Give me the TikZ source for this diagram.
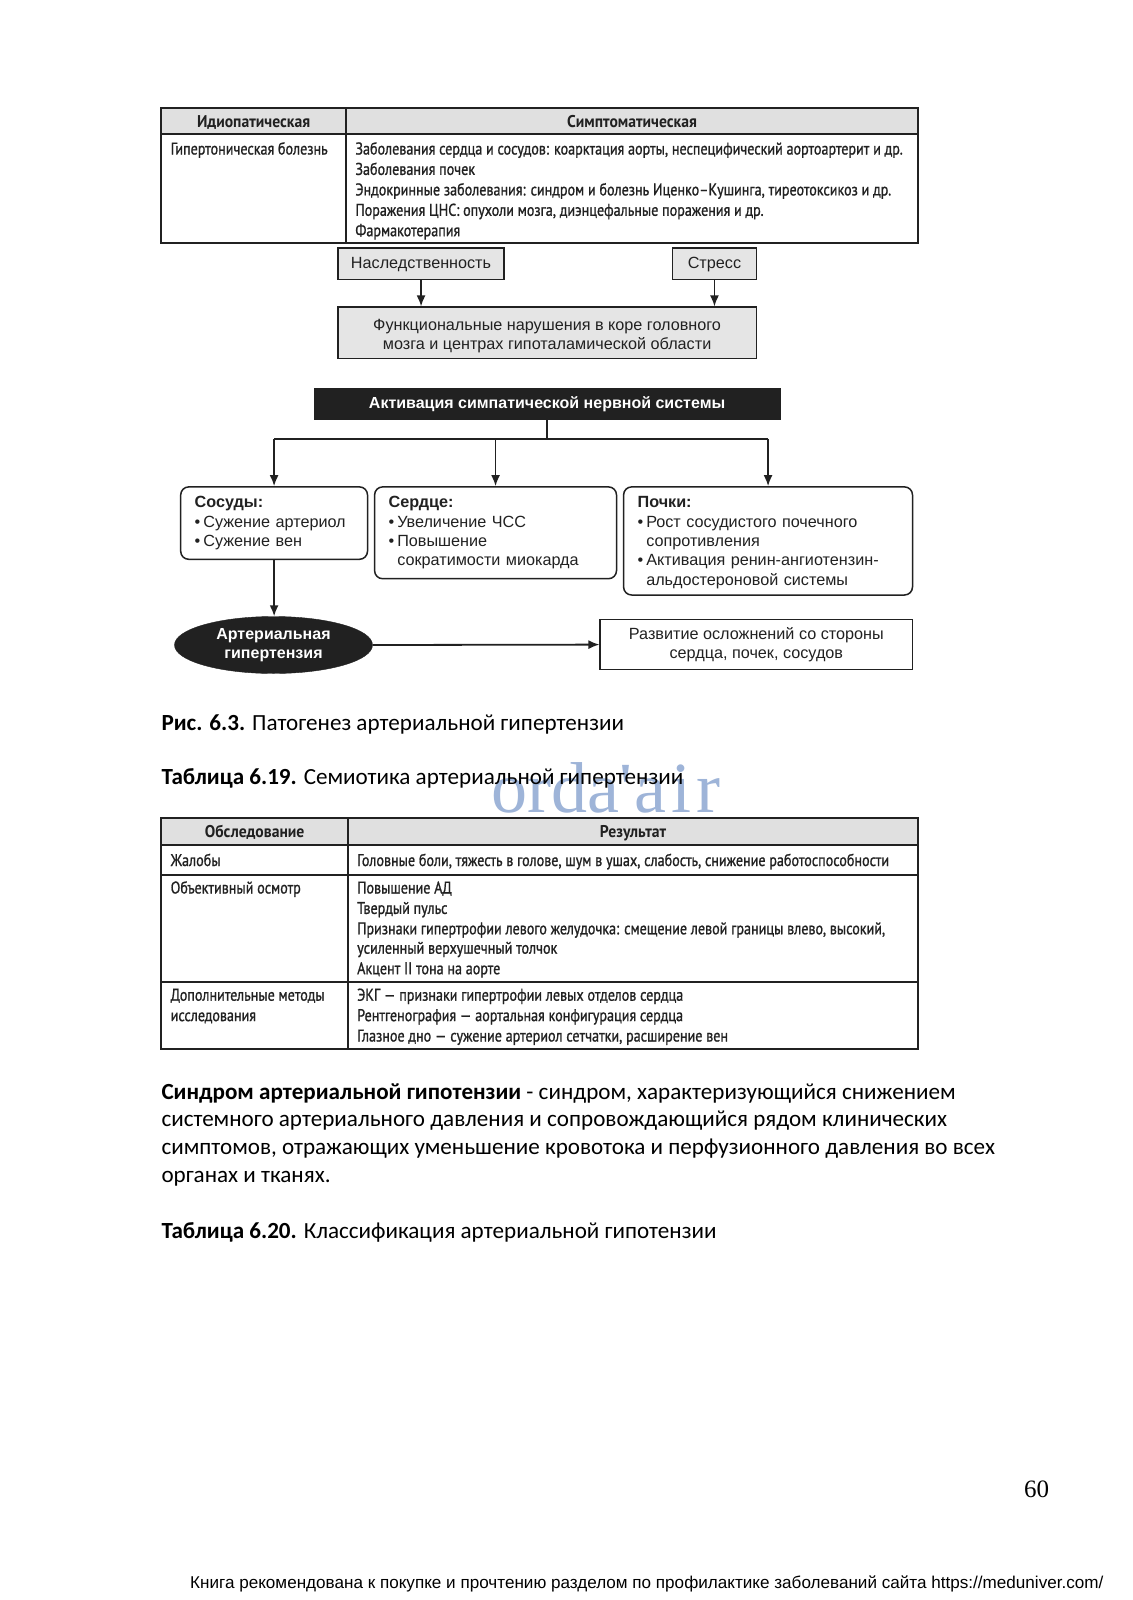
\documentclass[tikz,border=0pt]{standalone}
\usepackage{fontspec}
\setmainfont{Carlito}
\newfontfamily\diag{Liberation Sans}
\newfontfamily\tabf[FakeStretch=0.83,FakeBold=1.0]{PT Sans}
\newfontfamily\tabh[FakeStretch=0.92]{PT Sans Bold}
\newfontfamily\wmf{Liberation Serif}
\usetikzlibrary{arrows.meta,shapes.geometric}
\definecolor{hdr}{gray}{0.88}
\definecolor{boxg}{gray}{0.9}
\definecolor{ink}{gray}{0.13}
\definecolor{wm}{RGB}{158,180,216}
\newcommand{\blt}{•\kern3pt}
\newcommand{\bltind}{\hphantom{•\kern3pt}}
\tikzset{
  tabline/.style={draw=ink, line width=1.8pt},
  tabtxt/.style={font=\tabf\fontsize{17}{19}\selectfont, inner sep=0pt, anchor=base west, text=ink},
  tabhdr/.style={font=\tabh\fontsize{17}{19}\selectfont, inner sep=0pt, anchor=base, text=ink},
  dtxt/.style={font=\diag\fontsize{16.2}{19.4}\selectfont, text=ink},
  gbox/.style={dtxt, draw=ink, line width=1.5pt, fill=boxg, inner sep=0pt, align=center},
  blkbox/.style={font=\diag\bfseries\fontsize{16}{19.4}\selectfont, draw=ink, fill=ink, text=white, inner sep=0pt, align=center},
  rbox/.style={dtxt, draw=ink, line width=1.5pt, rounded corners=8pt, inner xsep=14pt, inner ysep=0pt, align=left},
  wbox/.style={dtxt, draw=ink, line width=1.5pt, fill=white, inner sep=0pt, align=center},
  conn/.style={draw=ink, line width=1.8pt},
  arr/.style={conn, -{Latex[length=11pt,width=9pt]}},
  captxt/.style={font=\fontsize{23.1}{27.5}\selectfont, inner sep=0pt, anchor=base west, text=black},
  wmtxt/.style={font=\wmf\fontsize{72}{72}\selectfont, text=wm, inner sep=0pt, anchor=base west},
}
\begin{document}
\begin{tikzpicture}[x=1pt,y=-1pt]
\useasboundingbox (0,0) rectangle (1132,1600);
\fill[white] (0,0) rectangle (1132,1600);

% ---------- Table 1 ----------
\fill[hdr] (161.3,108.2) rectangle (917.6,133.7);
\draw[tabline] (161.3,108.2) rectangle (917.6,242.9);
\draw[tabline] (161.3,133.7) -- (917.6,133.7);
\draw[tabline] (346,108.2) -- (346,242.9);
\node[tabhdr] (h1a) at (253.6,128) {Идиопатическая};
\node[tabhdr] (h1b) at (632,128) {Симптоматическая};
\node[tabtxt] (t1a) at (170.5,154.5) {Гипертоническая болезнь};
\node[tabtxt] (t1b) at (355.2,154.5) {Заболевания сердца и сосудов: коарктация аорты, неспецифический аортоартерит и др.};
\node[tabtxt] (t1c) at (355.2,174.9) {Заболевания почек};
\node[tabtxt] (t1d) at (355.2,195.4) {Эндокринные заболевания: синдром и болезнь Иценко–Кушинга, тиреотоксикоз и др.};
\node[tabtxt] (t1e) at (355.2,215.8) {Поражения ЦНС: опухоли мозга, диэнцефальные поражения и др.};
\node[tabtxt] (t1f) at (355.2,236.2) {Фармакотерапия};

% ---------- Flow diagram ----------
\node[gbox, minimum width=166.3pt, minimum height=31.7pt, text height=0.97em, text depth=0pt] (her) at (421.05,263.85) {Наследственность};
\node[gbox, minimum width=83.7pt, minimum height=31.7pt, text height=0.97em, text depth=0pt] (str) at (714.45,263.85) {Стресс};
\node[gbox, minimum width=418.4pt, minimum height=51.1pt] (func) at (547.1,332.75) {\rule{0pt}{1.08em}Функциональные нарушения в коре головного\\мозга и центрах гипоталамической области};
\draw[arr] (her.south) -- (her.south |- func.north);
\draw[arr] (str.south) -- (str.south |- func.north);

\node[blkbox, minimum width=465.4pt, minimum height=31.6pt, text height=0.88em, text depth=0pt] (act) at (547.1,403.7) {Активация симпатической нервной системы};
\coordinate (jn) at (547.1,438.9);

\node[rbox, text width=158.8pt, minimum height=72.4pt] (sos) at (274.1,523.1)
  {\textbf{Сосуды:}\\\blt Сужение артериол\\\blt Сужение вен};
\node[rbox, text width=213.9pt, minimum height=91.8pt] (ser) at (495.55,532.8)
  {\textbf{Сердце:}\\\blt Увеличение ЧСС\\\blt Повышение\\\bltind сократимости миокарда};
\node[rbox, text width=260.9pt, minimum height=108.1pt] (poc) at (768.05,540.95)
  {\rule{0pt}{0.9em}\textbf{Почки:}\\\blt Рост сосудистого почечного\\\bltind сопротивления\\\blt Активация ренин-ангиотензин-\\\bltind альдостероновой системы};

\draw[conn] (act.south) -- (jn);
\draw[conn] (jn -| sos) -- (jn -| poc);
\draw[arr] (jn -| sos) -- (sos.north);
\draw[arr] (jn -| ser) -- (ser.north);
\draw[arr] (jn -| poc) -- (poc.north);

\node[ellipse, fill=ink, draw=ink, minimum width=198pt, minimum height=57pt, inner sep=0pt, text=white,
  font=\diag\bfseries\fontsize{16}{19.4}\selectfont, align=center] (ah) at (273.5,645) {Артериальная\\гипертензия};
\node[wbox, minimum width=312.3pt, minimum height=50pt] (comp) at (756.35,644.6) {Развитие осложнений со стороны\\сердца, почек, сосудов};
\draw[arr] (sos.south) -- (sos.south |- ah.north);
\draw[arr] (ah.east) -- (comp.west);

% ---------- Captions ----------
\node[wmtxt] (wmark) at (491,812.5) {orda'};
\node[wmtxt] (wmark2) at (634,812.5) {a\kern5pt i\kern5pt r};
\node[captxt] (cap1) at (161.3,730.5) {\textbf{Рис. 6.3.} Патогенез артериальной гипертензии};
\node[captxt] (cap2) at (161.3,784.6) {\textbf{Таблица 6.19.} Семиотика артериальной гипертензии};

% ---------- Table 2 ----------
\fill[hdr] (161.3,817.6) rectangle (917.6,845.1);
\draw[tabline] (161.3,817.6) rectangle (917.6,1049.3);
\draw[tabline] (161.3,845.1) -- (917.6,845.1);
\draw[tabline] (161.3,874.7) -- (917.6,874.7);
\draw[tabline] (161.3,981.9) -- (917.6,981.9);
\draw[tabline] (348,817.6) -- (348,1049.3);
\node[tabhdr] (h2a) at (254.6,837.5) {Обследование};
\node[tabhdr] (h2b) at (633,837.5) {Результат};
\node[tabtxt] (r1a) at (170.5,866) {Жалобы};
\node[tabtxt] (r1b) at (357,866) {Головные боли, тяжесть в голове, шум в ушах, слабость, снижение работоспособности};
\node[tabtxt] (r2a) at (170.5,893.5) {Объективный осмотр};
\node[tabtxt] (r2b) at (357,893.5) {Повышение АД};
\node[tabtxt] (r2c) at (357,913.9) {Твердый пульс};
\node[tabtxt] (r2d) at (357,934.3) {Признаки гипертрофии левого желудочка: смещение левой границы влево, высокий,};
\node[tabtxt] (r2e) at (357,953.7) {усиленный верхушечный толчок};
\node[tabtxt] (r2f) at (357,974.2) {Акцент II тона на аорте};
\node[tabtxt] (r3a) at (170.5,1000.7) {Дополнительные методы};
\node[tabtxt] (r3b) at (170.5,1021.1) {исследования};
\node[tabtxt] (r3c) at (357,1000.7) {ЭКГ — признаки гипертрофии левых отделов сердца};
\node[tabtxt] (r3d) at (357,1021.1) {Рентгенография — аортальная конфигурация сердца};
\node[tabtxt] (r3e) at (357,1041.5) {Глазное дно — сужение артериол сетчатки, расширение вен};

% ---------- Paragraph ----------
\node[captxt] (p1) at (161.3,1099) {\textbf{Синдром артериальной гипотензии} - синдром, характеризующийся снижением};
\node[captxt] (p2) at (161.3,1126.6) {системного артериального давления и сопровождающийся рядом клинических};
\node[captxt] (p3) at (161.3,1154.3) {симптомов, отражающих уменьшение кровотока и перфузионного давления во всех};
\node[captxt] (p4) at (161.3,1182.8) {органах и тканях.};
\node[captxt] (cap3) at (161.3,1238) {\textbf{Таблица 6.20.} Классификация артериальной гипотензии};

% ---------- Page number and footer ----------
\node[font=\wmf\fontsize{25}{25}\selectfont, inner sep=0pt, anchor=base west] (pnum) at (1023.8,1497) {60};
\node[font=\diag\fontsize{17.1}{18}\selectfont, inner sep=0pt, anchor=base west] (foot) at (190,1588.5) {Книга рекомендована к покупке и прочтению разделом по профилактике заболеваний сайта https://meduniver.com/};
\end{tikzpicture}
\end{document}
